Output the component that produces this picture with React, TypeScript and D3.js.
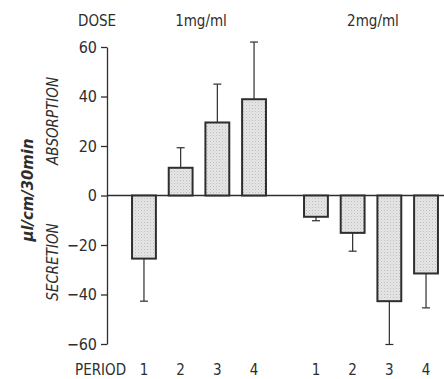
import { useRef, useEffect } from 'react'
import * as d3 from 'd3'

const DOSES = ['1mg/ml', '2mg/ml']
const PERIODS = ['1', '2', '3', '4']
// mean transport (µl/cm/30min), per dose, per period
const MEANS_1MG = [-25.5, 11.2, 29.5, 38.9]
const MEANS_2MG = [-8.6, -15.1, -42.7, -31.5]
// error bar length (drawn away from zero)
const ERR_1MG = [17.2, 8.1, 15.5, 23.1]
const ERR_2MG = [1.6, 7.4, 17.5, 13.9]
const Y_TICKS = [-60, -40, -20, 0, 20, 40, 60]

const FONT = "'DejaVu Sans Condensed','DejaVu Sans',sans-serif"
const INK = '#2e2e2e'

export default function App() {
  const svgRef = useRef<SVGSVGElement>(null)

  useEffect(() => {
    const svg = svgRef.current
    if (!svg) return
    const W = 444
    const H = 379

    const rows = [
      ...PERIODS.map((p, i) => ({ dose: DOSES[0], period: p, value: MEANS_1MG[i], err: ERR_1MG[i] })),
      ...PERIODS.map((p, i) => ({ dose: DOSES[1], period: p, value: MEANS_2MG[i], err: ERR_2MG[i] })),
    ]

    const sel = d3.select(svg)
    sel.selectAll('*').remove()
    sel.attr('width', W).attr('height', H)

    // stipple fill for the bars
    const pat = sel.append('defs').append('pattern')
      .attr('id', 'stipple').attr('patternUnits', 'userSpaceOnUse')
      .attr('width', 3).attr('height', 3)
    pat.append('rect').attr('width', 3).attr('height', 3).attr('fill', '#e6e6e6')
    pat.append('rect').attr('x', 0).attr('y', 0).attr('width', 1).attr('height', 1).attr('fill', '#bdbdbd')
    pat.append('rect').attr('x', 1.5).attr('y', 1.5).attr('width', 1).attr('height', 1).attr('fill', '#cfcfcf')

    const y = d3.scaleLinear().domain([-60, 60]).range([344, 47])
    const xDose = d3.scaleBand().domain(DOSES).range([119.2, 450.8]).paddingInner(0.072).paddingOuter(0)
    const xPeriod = d3.scaleBand().domain(PERIODS).range([0, xDose.bandwidth()]).padding(0.35)
    const axisX = 107

    // zero line
    sel.append('line')
      .attr('x1', axisX).attr('x2', W)
      .attr('y1', y(0)).attr('y2', y(0))
      .attr('stroke', INK).attr('stroke-width', 1.3)

    // y axis
    const ax = sel.append('g')
      .attr('transform', `translate(${axisX},0)`)
      .call(d3.axisLeft(y).tickValues(Y_TICKS).tickSize(6).tickSizeOuter(0).tickPadding(4).tickFormat(d3.format('d')))
    ax.select('.domain').attr('stroke', INK).attr('stroke-width', 1.3)
    ax.selectAll('.tick line').attr('stroke', INK).attr('stroke-width', 1.3)
    ax.selectAll('.tick text')
      .attr('fill', INK).attr('font-size', '16px').attr('font-family', FONT)

    // bars with error bars
    const bw = xPeriod.bandwidth()
    rows.forEach((r) => {
      const x0 = (xDose(r.dose) as number) + (xPeriod(r.period) as number)
      const cx = x0 + bw / 2
      const end = r.value >= 0 ? r.value + r.err : r.value - r.err
      sel.append('line')
        .attr('x1', cx).attr('x2', cx)
        .attr('y1', y(r.value)).attr('y2', y(end))
        .attr('stroke', INK).attr('stroke-width', 1.2)
      sel.append('line')
        .attr('x1', cx - 4).attr('x2', cx + 4)
        .attr('y1', y(end)).attr('y2', y(end))
        .attr('stroke', INK).attr('stroke-width', 1.2)
      sel.append('rect')
        .attr('x', x0).attr('width', bw)
        .attr('y', Math.min(y(r.value), y(0)))
        .attr('height', Math.abs(y(r.value) - y(0)))
        .attr('fill', 'url(#stipple)')
        .attr('stroke', INK).attr('stroke-width', 2)
      sel.append('text')
        .attr('x', cx).attr('y', 375)
        .attr('text-anchor', 'middle')
        .attr('fill', INK).attr('font-size', '15px').attr('font-family', FONT)
        .text(r.period)
    })

    // header labels
    sel.append('text')
      .attr('x', 78).attr('y', 26)
      .attr('fill', INK).attr('font-size', '15px').attr('font-family', FONT)
      .text('DOSE')
    DOSES.forEach((d) => {
      sel.append('text')
        .attr('x', (xDose(d) as number) + xDose.bandwidth() / 2 + 2).attr('y', 26)
        .attr('text-anchor', 'middle')
        .attr('fill', INK).attr('font-size', '15px').attr('font-family', FONT)
        .text(d)
    })
    sel.append('text')
      .attr('x', 75).attr('y', 375)
      .attr('fill', INK).attr('font-size', '15px').attr('font-family', FONT)
      .text('PERIOD')

    // rotated labels
    const rot = (x: number, yy: number, txt: string, size: number, weight: string) =>
      sel.append('text')
        .attr('transform', `translate(${x},${yy}) rotate(-90)`)
        .attr('text-anchor', 'middle')
        .attr('fill', INK).attr('font-size', `${size}px`).attr('font-family', FONT)
        .attr('font-style', 'italic').attr('font-weight', weight)
        .text(txt)
    rot(33, 190, 'μl/cm/30min', 16.5, 'bold')
    rot(58, 121, 'ABSORPTION', 15, 'normal')
    rot(58, 262, 'SECRETION', 15, 'normal')
  }, [])

  return (
    <svg ref={svgRef} style={{ position: 'absolute', left: 0, top: 0, background: '#fff' }} />
  )
}
